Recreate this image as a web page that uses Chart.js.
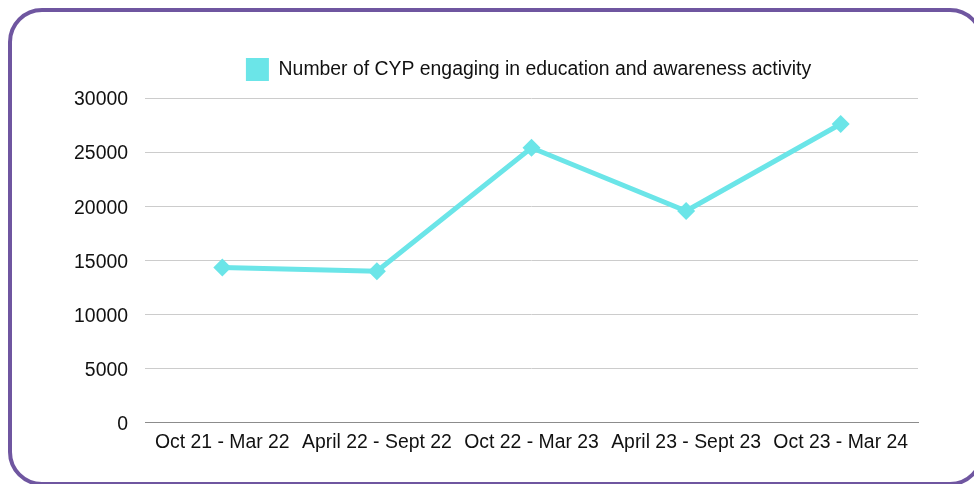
<!DOCTYPE html>
<html>
<head>
<meta charset="utf-8">
<script src="https://cdn.jsdelivr.net/npm/chart.js@4/dist/chart.umd.min.js"></script>
<style>
  html, body { margin: 0; padding: 0; background: #ffffff; }
  #wrap { position: relative; width: 974px; height: 484px; overflow: hidden; }
  #frame {
    position: absolute; left: 8px; top: 8px; width: 976px; height: 478px;
    box-sizing: border-box; border: 4px solid #6f56a0; border-radius: 34px;
  }
  #chart { position: absolute; left: 0; top: 0; }
</style>
</head>
<body>
<div id="wrap">
  <div id="frame"></div>
  <canvas id="chart" width="974" height="484"></canvas>
</div>
<script>
// Six-month reporting periods
const periods = [
  'Oct 21 - Mar 22',
  'April 22 - Sept 22',
  'Oct 22 - Mar 23',
  'April 23 - Sept 23',
  'Oct 23 - Mar 24'
];

// Children and young people reached by education and awareness sessions
const cypEngaged = [14350, 14000, 25400, 19560, 27600];

const seriesLabel = 'Number of CYP engaging in education and awareness activity';

// Y axis range and steps
const yMin = 0;
const yMax = 30000;
const yStep = 5000;

const lineColour = '#6be5e8';
const textColour = '#111111';
const fontFamily = '"Liberation Sans", Arial, sans-serif';
const fontSize = 19.4;

// Legend sits centred over the plot area rather than the whole canvas,
// with a little extra room below it
const legendPlacement = {
  id: 'legendPlacement',
  beforeInit(chart) {
    const origFit = chart.legend.fit;
    chart.legend.fit = function () {
      origFit.bind(chart.legend)();
      this.height += 7;
    };
  },
  afterLayout(chart) {
    const lg = chart.legend;
    const area = chart.chartArea;
    const shift = area.left - 6 - lg.left;
    lg.left += shift;
  }
};

new Chart(document.getElementById('chart'), {
  type: 'line',
  data: {
    labels: periods,
    datasets: [{
      label: seriesLabel,
      data: cypEngaged,
      borderColor: lineColour,
      backgroundColor: lineColour,
      borderWidth: 5,
      tension: 0,
      pointStyle: 'rectRot',
      pointRadius: 9,
      pointHoverRadius: 9,
      pointBorderWidth: 0,
      pointBackgroundColor: lineColour
    }]
  },
  options: {
    responsive: false,
    animation: false,
    layout: { padding: { left: 20, right: 56, top: 48, bottom: 22 } },
    plugins: {
      tooltip: { enabled: false },
      legend: {
        display: true,
        position: 'top',
        align: 'center',
        labels: {
          boxWidth: 23,
          boxHeight: 23,
          padding: 10,
          color: textColour,
          font: { family: fontFamily, size: fontSize },
          generateLabels(chart) {
            const items = Chart.defaults.plugins.legend.labels.generateLabels(chart);
            items.forEach(it => { it.lineWidth = 0; it.strokeStyle = 'rgba(0,0,0,0)'; });
            return items;
          }
        }
      }
    },
    scales: {
      x: {
        offset: true,
        grid: { display: false, drawTicks: false },
        border: { display: true, color: '#8c8c8c', width: 1 },
        ticks: {
          color: textColour,
          font: { family: fontFamily, size: fontSize },
          padding: 8,
          maxRotation: 0,
          autoSkip: false
        }
      },
      y: {
        min: yMin,
        max: yMax,
        grid: { color: '#cccccc', lineWidth: 1, drawTicks: false },
        border: { display: false },
        ticks: {
          stepSize: yStep,
          color: textColour,
          font: { family: fontFamily, size: fontSize },
          padding: 17,
          labelOffset: 2,
          callback: v => String(v)
        },
        afterFit(scale) { scale.width = 125; }
      }
    }
  },
  plugins: [legendPlacement]
});
</script>
</body>
</html>
